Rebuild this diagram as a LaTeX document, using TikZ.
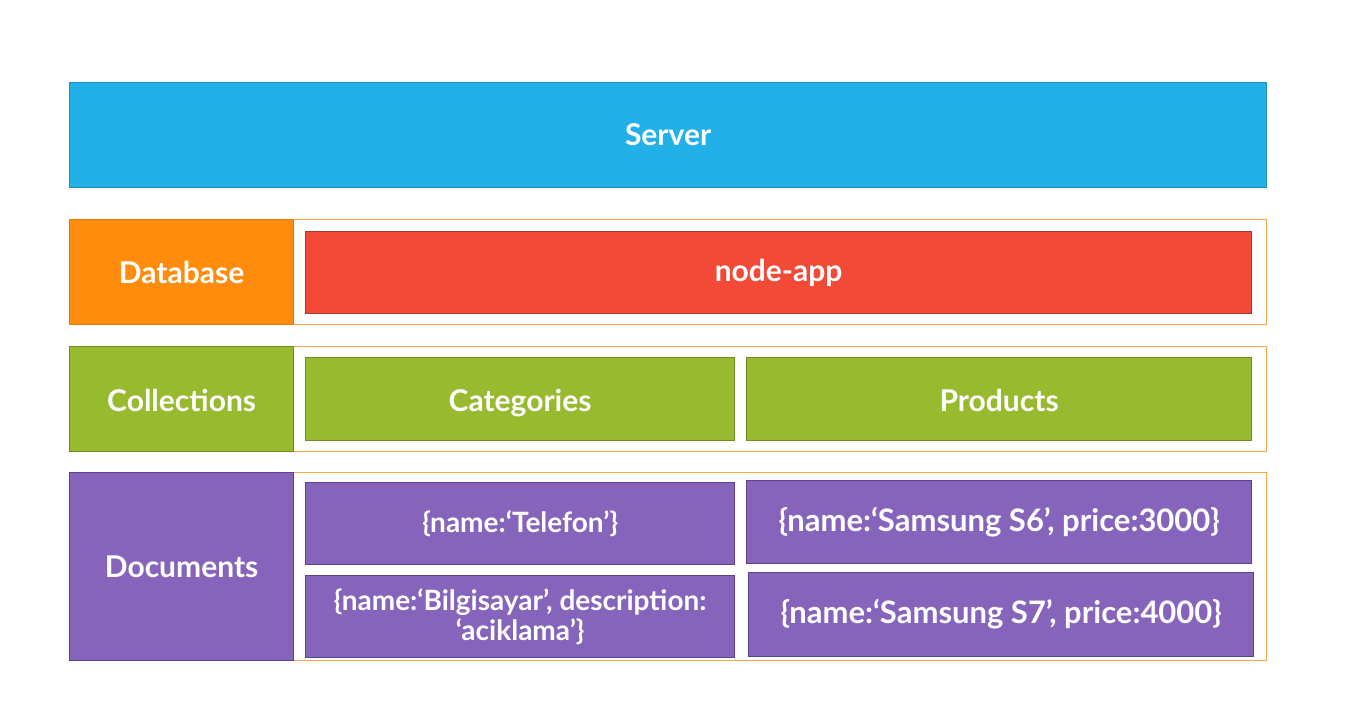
\documentclass[tikz,border=0pt]{standalone}
\usepackage{fontspec}
\setmainfont{Lato}
\definecolor{serverblue}{HTML}{22B0E9}
\definecolor{serverline}{HTML}{1E8FBF}
\definecolor{dborange}{HTML}{FF8C0C}
\definecolor{dbline}{HTML}{E07A10}
\definecolor{frameorange}{HTML}{FFA448}
\definecolor{appred}{HTML}{F24A37}
\definecolor{appline}{HTML}{A33B30}
\definecolor{colgreen}{HTML}{98BA2F}
\definecolor{colline}{HTML}{6F8A22}
\definecolor{docpurple}{HTML}{8664BC}
\definecolor{docline}{HTML}{5B4290}
\begin{document}
\begin{tikzpicture}[
		x=1pt,y=-1pt,
		box/.style={rectangle,anchor=north west,inner sep=0pt,line width=1.2pt,
				text=white,font=\fontsize{30}{34}\selectfont\bfseries,align=center},
		frame/.style={box,draw=frameorange,fill=white},
		label/.style={box,minimum width=224pt},
		small/.style={font=\fontsize{28}{30}\selectfont\bfseries},
		large/.style={font=\fontsize{31}{34}\selectfont\bfseries},
		server/.style={box,fill=serverblue,draw=serverline},
		database/.style={label,fill=dborange,draw=dbline},
		app/.style={box,fill=appred,draw=appline},
		collection/.style={box,fill=colgreen,draw=colline,text height=26pt,text depth=2pt},
		document/.style={box,fill=docpurple,draw=docline}
	]
	\useasboundingbox[fill=white] (0,0) rectangle (1366,720);
	% server
	\node[server,minimum width=1197pt,minimum height=105pt] (server) at (69,82) {Server};
	% database row
	\node[frame,minimum width=1197pt,minimum height=105pt] (dbrow) at (69,219) {};
	\node[database,minimum height=105pt] (database) at (69,219) {Database};
	\node[app,minimum width=946pt,minimum height=82pt] (nodeapp) at (305,231) {node-app};
	% collections row
	\node[frame,minimum width=1197pt,minimum height=105pt] (colrow) at (69,346) {};
	\node[collection,minimum width=224pt,minimum height=105pt] (collections) at (69,346) {Collections};
	\node[collection,minimum width=429pt,minimum height=83pt] (categories) at (305,357) {Categories};
	\node[collection,minimum width=505pt,minimum height=83pt] (products) at (746,357) {Products};
	% documents row
	\node[frame,minimum width=1197pt,minimum height=188pt] (docrow) at (69,472) {};
	\node[document,minimum width=224pt,minimum height=188pt] (documents) at (69,472) {Documents};
	\node[document,small,minimum width=429pt,minimum height=82pt] (telefon) at (305,482) {\{name:‘Telefon’\}};
	\node[document,small,minimum width=429pt,minimum height=82pt] (bilgisayar) at (305,575) {\{name:‘Bilgisayar’, description:\\‘aciklama’\}};
	\node[document,large,minimum width=505pt,minimum height=83pt] (samsungsix) at (746,480) {\{name:‘Samsung S6’, price:3000\}};
	\node[document,large,minimum width=505pt,minimum height=84pt] (samsungseven) at (748,572) {\{name:‘Samsung S7’, price:4000\}};
\end{tikzpicture}
\end{document}
